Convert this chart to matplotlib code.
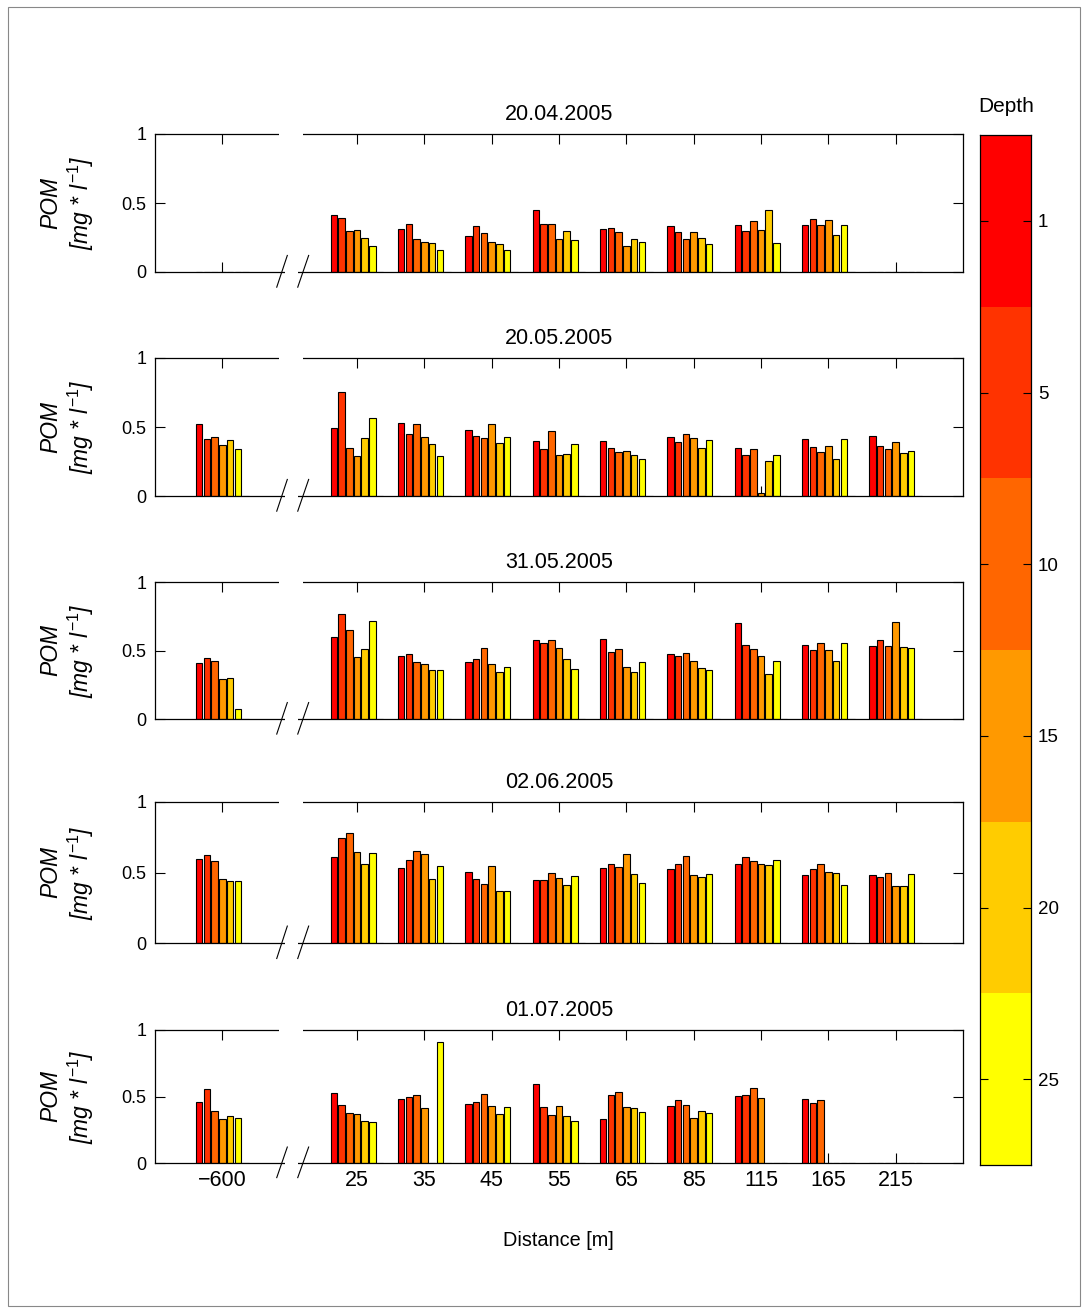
import numpy as np
import matplotlib
matplotlib.use("Agg")
import matplotlib.pyplot as plt
from matplotlib.patches import Rectangle

plt.rcParams['font.family'] = ['Liberation Sans', 'DejaVu Sans']
plt.rcParams['mathtext.fontset'] = 'custom'
plt.rcParams['mathtext.it'] = 'Liberation Sans:italic'
plt.rcParams['mathtext.rm'] = 'Liberation Sans'

# --- data -------------------------------------------------------------
dist_labels = ['\u2212600', '25', '35', '45', '55', '65', '85', '115', '165', '215']
group_pos = [0, 2, 3, 4, 5, 6, 7, 8, 9, 10]   # slot 1 is the axis break
depth_ticks = [1, 5, 10, 15, 20, 25]
dates = ['20.04.2005', '20.05.2005', '31.05.2005', '02.06.2005', '01.07.2005']

# rows = distance, columns = depth level (7th level empty)
pom_20apr = [[0, 0, 0, 0, 0, 0, 0],
             [0.41, 0.39, 0.30, 0.305, 0.25, 0.19, 0],
             [0.31, 0.35, 0.24, 0.22, 0.21, 0.16, 0],
             [0.26, 0.33, 0.285, 0.22, 0.20, 0.16, 0],
             [0.45, 0.35, 0.345, 0.24, 0.30, 0.23, 0],
             [0.31, 0.32, 0.29, 0.19, 0.24, 0.215, 0],
             [0.33, 0.29, 0.24, 0.29, 0.25, 0.20, 0],
             [0.34, 0.30, 0.37, 0.305, 0.45, 0.21, 0],
             [0.34, 0.385, 0.34, 0.38, 0.27, 0.34, 0],
             [0, 0, 0, 0, 0, 0, 0]]
pom_20may = [[0.52, 0.41, 0.43, 0.37, 0.405, 0.34, 0],
             [0.495, 0.757, 0.345, 0.29, 0.42, 0.565, 0],
             [0.53, 0.45, 0.52, 0.425, 0.375, 0.29, 0],
             [0.475, 0.437, 0.42, 0.52, 0.385, 0.425, 0],
             [0.40, 0.337, 0.47, 0.30, 0.305, 0.38, 0],
             [0.40, 0.345, 0.32, 0.323, 0.30, 0.27, 0],
             [0.427, 0.39, 0.45, 0.42, 0.345, 0.405, 0],
             [0.347, 0.30, 0.342, 0.025, 0.255, 0.295, 0],
             [0.41, 0.355, 0.32, 0.36, 0.267, 0.41, 0],
             [0.435, 0.36, 0.34, 0.39, 0.31, 0.325, 0]]
pom_31may = [[0.41, 0.443, 0.42, 0.29, 0.30, 0.07, 0],
             [0.60, 0.765, 0.65, 0.455, 0.51, 0.715, 0],
             [0.46, 0.475, 0.415, 0.40, 0.36, 0.355, 0],
             [0.415, 0.44, 0.52, 0.40, 0.345, 0.378, 0],
             [0.576, 0.552, 0.58, 0.515, 0.44, 0.363, 0],
             [0.586, 0.49, 0.51, 0.38, 0.34, 0.416, 0],
             [0.475, 0.46, 0.48, 0.42, 0.373, 0.358, 0],
             [0.70, 0.54, 0.51, 0.457, 0.325, 0.426, 0],
             [0.537, 0.503, 0.557, 0.506, 0.426, 0.554, 0],
             [0.53, 0.576, 0.53, 0.707, 0.523, 0.52, 0]]
pom_02jun = [[0.598, 0.626, 0.58, 0.456, 0.437, 0.442, 0],
             [0.607, 0.745, 0.778, 0.643, 0.563, 0.636, 0],
             [0.532, 0.586, 0.65, 0.629, 0.452, 0.544, 0],
             [0.504, 0.456, 0.42, 0.548, 0.366, 0.366, 0],
             [0.444, 0.447, 0.494, 0.461, 0.414, 0.473, 0],
             [0.532, 0.563, 0.537, 0.629, 0.492, 0.423, 0],
             [0.525, 0.56, 0.617, 0.485, 0.47, 0.492, 0],
             [0.563, 0.612, 0.579, 0.56, 0.556, 0.59, 0],
             [0.48, 0.522, 0.558, 0.506, 0.496, 0.411, 0],
             [0.485, 0.47, 0.494, 0.404, 0.402, 0.487, 0]]
pom_01jul = [[0.46, 0.56, 0.392, 0.33, 0.352, 0.342, 0],
             [0.53, 0.433, 0.377, 0.37, 0.314, 0.306, 0],
             [0.484, 0.50, 0.509, 0.415, 0, 0.911, 0],
             [0.446, 0.456, 0.52, 0.425, 0.37, 0.418, 0],
             [0.592, 0.423, 0.362, 0.425, 0.35, 0.314, 0],
             [0.332, 0.514, 0.537, 0.42, 0.415, 0.382, 0],
             [0.43, 0.476, 0.435, 0.34, 0.39, 0.377, 0],
             [0.506, 0.509, 0.565, 0.491, 0, 0, 0],
             [0.484, 0.453, 0.471, 0, 0, 0, 0],
             [0, 0, 0, 0, 0, 0, 0]]
panels = [pom_20apr, pom_20may, pom_31may, pom_02jun, pom_01jul]

depth_colors = ['#ff0000', '#ff3300', '#ff6600', '#ff9900', '#ffcc00', '#ffff00', '#ffff00']

# --- figure -----------------------------------------------------------
W, H = 1087, 1313
fig = plt.figure(figsize=(W / 100, H / 100), dpi=100)
fig.patches.append(Rectangle((8 / W, 1 - 1306 / H), 1072 / W, 1299 / H,
                             transform=fig.transFigure, fill=False,
                             edgecolor='#888888', lw=0.8))

ax_left, ax_right = 155, 963
tops = [134, 358, 582, 802, 1030]
bottoms = [272, 496, 719, 943, 1163]

step = 0.8 / 7
bw = 0.095

for p, (data, date) in enumerate(zip(panels, dates)):
    ax = fig.add_axes([ax_left / W, 1 - bottoms[p] / H,
                       (ax_right - ax_left) / W, (bottoms[p] - tops[p]) / H])
    arr = np.array(data)
    for k in range(arr.shape[1]):
        xs = np.array(group_pos) + (k - 3) * step
        ax.bar(xs, arr[:, k], width=bw, color=depth_colors[k],
               edgecolor='black', linewidth=0.8, zorder=2)
    ax.set_xlim(-1, 11)
    ax.set_ylim(0, 1)
    ax.set_yticks([0, 0.5, 1])
    ax.set_yticklabels(['0', '0.5', '1'])
    ax.set_xticks(group_pos)
    if p == len(panels) - 1:
        ax.set_xticklabels(dist_labels)
    else:
        ax.set_xticklabels([])
    ax.tick_params(direction='in', length=7, width=0.8, top=True, right=True,
                   labelsize=13, pad=6)
    ax.tick_params(axis='x', labelsize=15.5, pad=5)
    for s in ax.spines.values():
        s.set_linewidth(0.9)
    ax.set_title(date, fontsize=15.5, pad=10)
    ax.text(-0.108, 0.5, 'POM\n[mg * $l^{-1}$]', transform=ax.transAxes,
            rotation=90, ha='center', va='center', fontsize=16.5,
            style='italic', multialignment='center', linespacing=1.15)

    # axis break
    ax.add_patch(Rectangle((0.843, 0.96), 0.356, 0.08, facecolor='white',
                           edgecolor='none', clip_on=False, zorder=5))
    ax.add_patch(Rectangle((0.93, -0.04), 0.2, 0.08, facecolor='white',
                           edgecolor='none', clip_on=False, zorder=5))
    for x0, x1 in [(0.808, 0.965), (1.12, 1.282)]:
        ax.plot([x0, x1], [-0.11, 0.12], color='black', lw=0.8,
                clip_on=False, zorder=6)

# colorbar
cb_top, cb_bot = 135, 1165
cax = fig.add_axes([980 / W, 1 - cb_bot / H, 51 / W, (cb_bot - cb_top) / H])
for i in range(6):
    cax.axhspan(i, i + 1, color=depth_colors[i], lw=0)
cax.set_ylim(6, 0)
cax.set_xlim(0, 1)
cax.set_xticks([])
cax.set_yticks(np.arange(6) + 0.5)
cax.set_yticklabels([str(d) for d in depth_ticks])
cax.yaxis.tick_right()
cax.tick_params(axis='y', direction='in', length=6, width=0.8, left=True,
                right=True, labelsize=13.5, pad=5)
for s in cax.spines.values():
    s.set_linewidth(0.9)
fig.text(1006 / W, 1 - 107 / H, 'Depth', ha='center', va='center', fontsize=15)

fig.text(558 / W, 1 - 1240 / H, 'Distance [m]', ha='center', va='center',
         fontsize=14.3)

fig.savefig('out.png', dpi=100)
